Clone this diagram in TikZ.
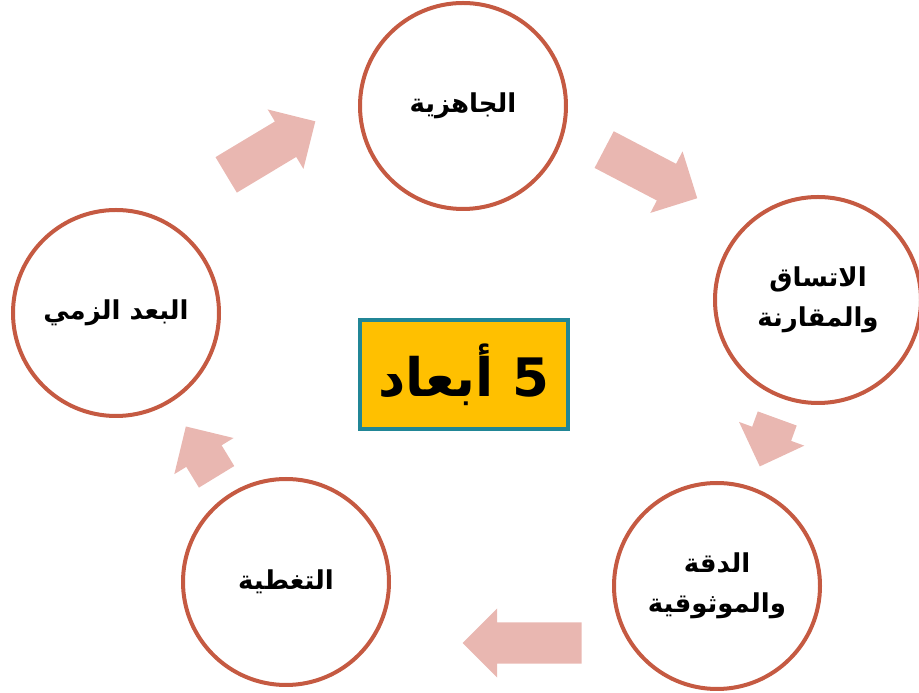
\documentclass[tikz,border=0pt]{standalone}
\usepackage{fontspec}
\newfontfamily\arabicfont[Script=Arabic]{DejaVu Sans}
\TeXXeTstate=1
\usepackage{xcolor}
\usetikzlibrary{shapes.arrows,positioning}
\definecolor{ringred}{RGB}{197,90,66}
\definecolor{arrowpink}{RGB}{233,183,177}
\definecolor{boxgold}{RGB}{255,192,0}
\definecolor{boxteal}{RGB}{33,134,150}

\begin{document}
\begin{tikzpicture}[x=1pt, y=1pt,
  dim/.style={circle, draw=ringred, line width=4pt, fill=white, minimum size=206pt, inner sep=0pt, align=center, font=\arabicfont\bfseries\fontsize{26}{40}\selectfont},
  flow/.style={single arrow, fill=arrowpink, draw=none, minimum width=69pt, single arrow head extend=14pt, inner xsep=0pt, inner ysep=20.5pt, anchor=tail},
  title/.style={rectangle, draw=boxteal, line width=4pt, fill=boxgold, minimum width=208pt, minimum height=109pt, inner sep=0pt, font=\arabicfont\bfseries\fontsize{53}{60}\selectfont}
]
\useasboundingbox (0,0) rectangle (919,693);
\node[dim] (ready) at (463,587) {\beginR الجاهزية\endR};
\node[dim] (consist) at (818,393) {\beginR الاتساق\endR\\\beginR والمقارنة\endR};
\node[dim] (accur) at (717,107) {\beginR الدقة\endR\\\beginR والموثوقية\endR};
\node[dim] (cover) at (286,111) {\beginR التغطية\endR};
\node[dim] (timely) at (116,380) {\beginR البعد الزمي\endR};
\node[title] (dims) at (464,318.5) {\beginR 5 أبعاد\endR};
\node[flow, minimum height=104pt, rotate=31] (arrA) at (226,518) {};
\node[flow, minimum height=105pt, rotate=-27.6] (arrB) at (604,543.5) {};
\node[flow, minimum height=51pt, rotate=-110] (arrC) at (777.3,274.7) {};
\node[flow, minimum height=119pt, rotate=180] (arrD) at (581.7,50) {};
\node[flow, minimum height=59pt, rotate=121.4] (arrE) at (216.7,216) {};
\end{tikzpicture}
\end{document}
